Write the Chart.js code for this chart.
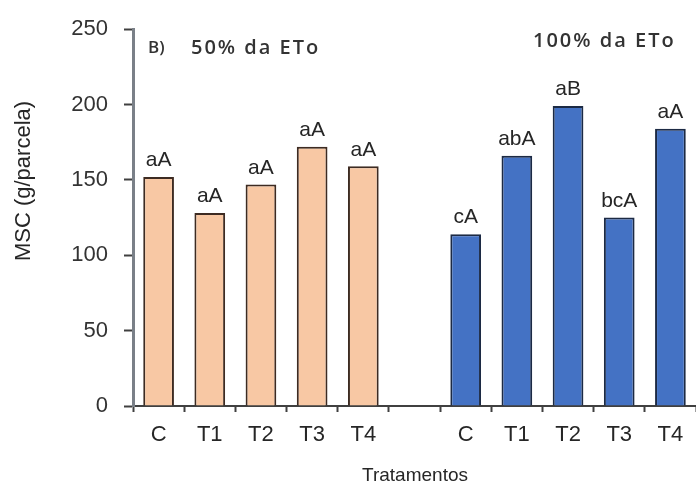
<!DOCTYPE html>
<html>
<head>
<meta charset="utf-8">
<script src="https://cdn.jsdelivr.net/npm/chart.js@4"></script>
<style>
  html, body { margin: 0; padding: 0; background: #fff; }
  #wrap { width: 696px; height: 486px; position: relative; }
</style>
</head>
<body>
<div id="wrap"><canvas id="chart" width="696" height="486"></canvas></div>
<script>
// Categories (empty slot separates the two irrigation levels)
const categories = ['C', 'T1', 'T2', 'T3', 'T4', '', 'C', 'T1', 'T2', 'T3', 'T4'];

// MSC values (g/parcela)
const msc50 = [152, 128, 147, 172, 159];
const msc100 = [114, 166, 199, 125, 184];

// letters above bars
const letters50 = ['aA', 'aA', 'aA', 'aA', 'aA'];
const letters100 = ['cA', 'abA', 'aB', 'bcA', 'aA'];

const yTicks = [0, 50, 100, 150, 200, 250];

const values = [...msc50, null, ...msc100];
const letters = [...letters50, '', ...letters100];
const fills = [...msc50.map(() => '#f8c8a4'), 'rgba(0,0,0,0)', ...msc100.map(() => '#4472c4')];
const borders = [...msc50.map(() => '#3d2b22'), 'rgba(0,0,0,0)', ...msc100.map(() => '#1c2a44')];

const FONT = "'Liberation Sans', Arial, sans-serif";

// text drawn over the chart: letters, group titles, axis titles
const annotations = {
  id: 'annotations',
  afterDatasetsDraw(chart) {
    const ctx = chart.ctx;
    const meta = chart.getDatasetMeta(0);
    ctx.save();
    ctx.fillStyle = '#262626';
    ctx.font = '21px ' + FONT;
    ctx.textAlign = 'center';
    ctx.textBaseline = 'bottom';
    meta.data.forEach((bar, i) => {
      if (!letters[i]) return;
      ctx.fillText(letters[i], bar.x, bar.y - 6);
    });

    ctx.fillStyle = '#333';
    ctx.textAlign = 'left';
    ctx.textBaseline = 'middle';
    ctx.font = '600 17px "Open Sans", sans-serif';
    ctx.fillText('B)', 148, 48);
    ctx.font = '600 20px "Open Sans", sans-serif';
    ctx.letterSpacing = '2px';
    ctx.fillText('50% da ETo', 191, 48);
    ctx.fillText('100% da ETo', 533, 41);
    ctx.letterSpacing = '0px';

    // axis titles
    ctx.fillStyle = '#262626';
    ctx.font = '19px ' + FONT;
    ctx.textAlign = 'center';
    ctx.fillText('Tratamentos', 415, 476);

    ctx.save();
    ctx.translate(24, 181);
    ctx.rotate(-Math.PI / 2);
    ctx.font = '22px ' + FONT;
    ctx.fillText('MSC (g/parcela)', 0, 0);
    ctx.restore();
    ctx.restore();
  }
};

new Chart(document.getElementById('chart'), {
  type: 'bar',
  data: {
    labels: categories,
    datasets: [{
      data: values,
      backgroundColor: fills,
      borderColor: borders,
      borderWidth: 2,
      categoryPercentage: 1,
      barPercentage: 0.6
    }]
  },
  options: {
    responsive: false,
    animation: false,
    layout: { padding: { top: 25, right: 0, left: 0, bottom: 0 } },
    plugins: {
      legend: { display: false },
      tooltip: { enabled: false }
    },
    scales: {
      x: {
        grid: {
          display: true,
          drawOnChartArea: false,
          drawTicks: true,
          tickLength: 6,
          tickColor: '#404040',
          tickWidth: 2,
          offset: true
        },
        border: { display: true, color: '#404040', width: 2 },
        ticks: {
          color: '#262626',
          font: { family: FONT, size: 22 },
          padding: 10,
          maxRotation: 0,
          autoSkip: false
        },
        afterFit(scale) { scale.height = 80; }
      },
      y: {
        min: 0,
        max: 250,
        afterBuildTicks(scale) { scale.ticks = yTicks.map(v => ({ value: v })); },
        grid: {
          display: true,
          drawOnChartArea: false,
          drawTicks: true,
          tickLength: 9,
          tickColor: '#404040',
          tickWidth: 2
        },
        border: { display: true, color: '#7a8088', width: 3 },
        ticks: {
          color: '#333',
          font: { family: FONT, size: 22 },
          padding: 16
        },
        afterFit(scale) { scale.width = 133; }
      }
    }
  },
  plugins: [annotations]
});
</script>
</body>
</html>
